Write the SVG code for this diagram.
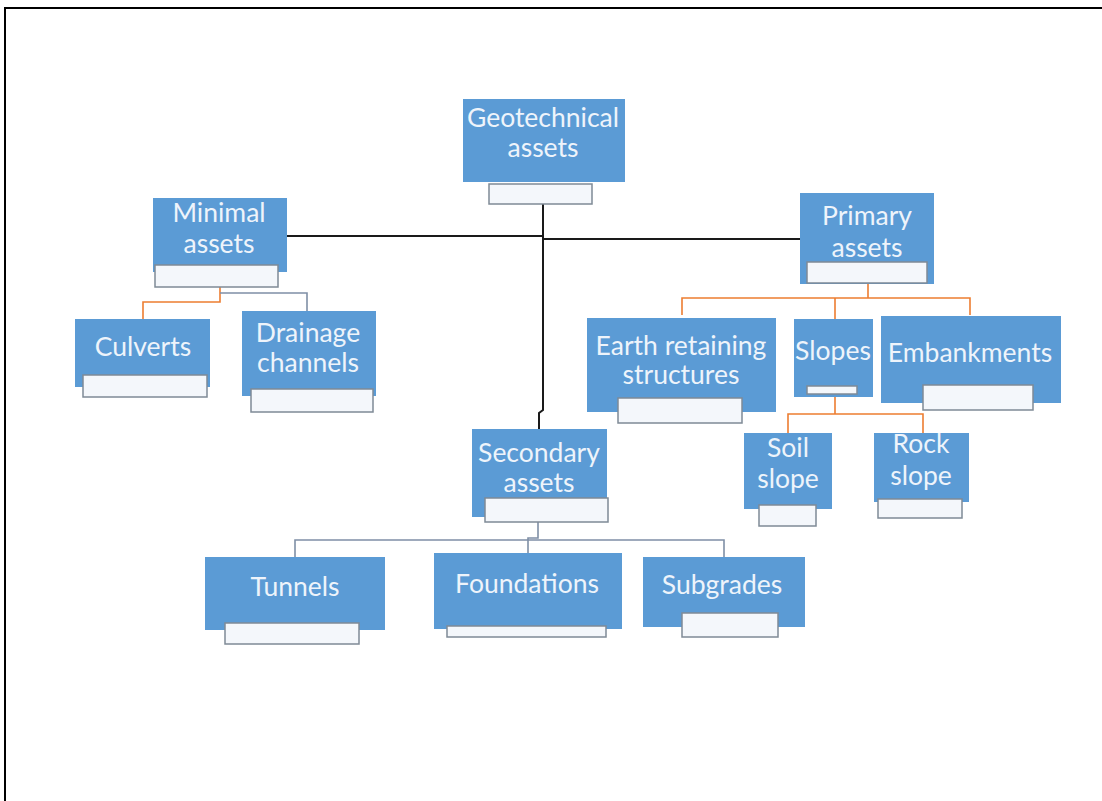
<svg xmlns="http://www.w3.org/2000/svg" width="1102" height="801" viewBox="0 0 1102 801">
<style>
.box{fill:#5b9bd5}
.sub{fill:#f4f7fb;stroke:#7f8a96;stroke-width:1.5}
.t{font-family:Lato,"Liberation Sans",sans-serif;font-size:26.5px;fill:#eef4fb;text-anchor:middle}
.k{fill:none;stroke:#1a1a1a;stroke-width:2}
.o{fill:none;stroke:#ed7d31;stroke-width:1.6}
.g{fill:none;stroke:#7f8fa6;stroke-width:1.6}
</style>
<rect width="1102" height="801" fill="#ffffff"/>
<path d="M5 801V8H1102" fill="none" stroke="#000" stroke-width="2"/>
<g id="connectors">
<path class="k" d="M543 204V410L539 413V429"/>
<path class="k" d="M287 236H543M543 239H800"/>
<path class="o" d="M220 287V302H143V319"/>
<path class="g" d="M220 293H307V311"/>
<path class="o" d="M868 284V298M682 315V298H970V315M835 298V319"/>
<path class="o" d="M835 397V414M788 433V414H923V433"/>
<path class="g" d="M538 522V538H528V553M295 557V540H724V557"/>
</g>
<g id="geotechnical">
<rect class="box" x="463" y="99" width="162" height="83"/>
<rect class="sub" x="489" y="184" width="103" height="20"/>
<text class="t" x="543" y="127">Geotechnical</text>
<text class="t" x="543" y="157">assets</text>
</g>
<g id="minimal">
<rect class="box" x="153" y="198" width="134" height="74"/>
<rect class="sub" x="155" y="265" width="123" height="22"/>
<text class="t" x="219" y="222">Minimal</text>
<text class="t" x="219" y="253">assets</text>
</g>
<g id="culverts">
<rect class="box" x="75" y="319" width="135" height="68"/>
<rect class="sub" x="83" y="375" width="124" height="22"/>
<text class="t" x="143" y="356">Culverts</text>
</g>
<g id="drainage">
<rect class="box" x="242" y="311" width="134" height="85"/>
<rect class="sub" x="251" y="389" width="122" height="23"/>
<text class="t" x="308" y="342">Drainage</text>
<text class="t" x="308" y="372">channels</text>
</g>
<g id="primary">
<rect class="box" x="800" y="193" width="134" height="91"/>
<rect class="sub" x="807" y="262" width="120" height="21"/>
<text class="t" x="867" y="225">Primary</text>
<text class="t" x="867" y="257">assets</text>
</g>
<g id="earth">
<rect class="box" x="587" y="318" width="189" height="94"/>
<rect class="sub" x="618" y="398" width="124" height="25"/>
<text class="t" x="681" y="355">Earth retaining</text>
<text class="t" x="681" y="384">structures</text>
</g>
<g id="slopes">
<rect class="box" x="794" y="319" width="79" height="78"/>
<rect class="sub" x="807" y="386" width="50" height="8"/>
<text class="t" x="833" y="360">Slopes</text>
</g>
<g id="embankments">
<rect class="box" x="881" y="316" width="180" height="87"/>
<rect class="sub" x="923" y="385" width="110" height="25"/>
<text class="t" x="970" y="362">Embankments</text>
</g>
<g id="soil">
<rect class="box" x="744" y="433" width="88" height="76"/>
<rect class="sub" x="759" y="505" width="57" height="21"/>
<text class="t" x="788" y="457">Soil</text>
<text class="t" x="788" y="488">slope</text>
</g>
<g id="rock">
<rect class="box" x="874" y="433" width="95" height="69"/>
<rect class="sub" x="878" y="499" width="84" height="19"/>
<text class="t" x="921" y="453">Rock</text>
<text class="t" x="921" y="485">slope</text>
</g>
<g id="secondary">
<rect class="box" x="472" y="429" width="135" height="88"/>
<rect class="sub" x="485" y="498" width="123" height="24"/>
<text class="t" x="539" y="462">Secondary</text>
<text class="t" x="539" y="492">assets</text>
</g>
<g id="tunnels">
<rect class="box" x="205" y="557" width="180" height="73"/>
<rect class="sub" x="225" y="623" width="134" height="21"/>
<text class="t" x="295" y="596">Tunnels</text>
</g>
<g id="foundations">
<rect class="box" x="434" y="553" width="188" height="76"/>
<rect class="sub" x="447" y="626" width="159" height="11"/>
<text class="t" x="527" y="593">Foundations</text>
</g>
<g id="subgrades">
<rect class="box" x="643" y="557" width="162" height="70"/>
<rect class="sub" x="682" y="613" width="96" height="24"/>
<text class="t" x="722" y="594">Subgrades</text>
</g>
</svg>
